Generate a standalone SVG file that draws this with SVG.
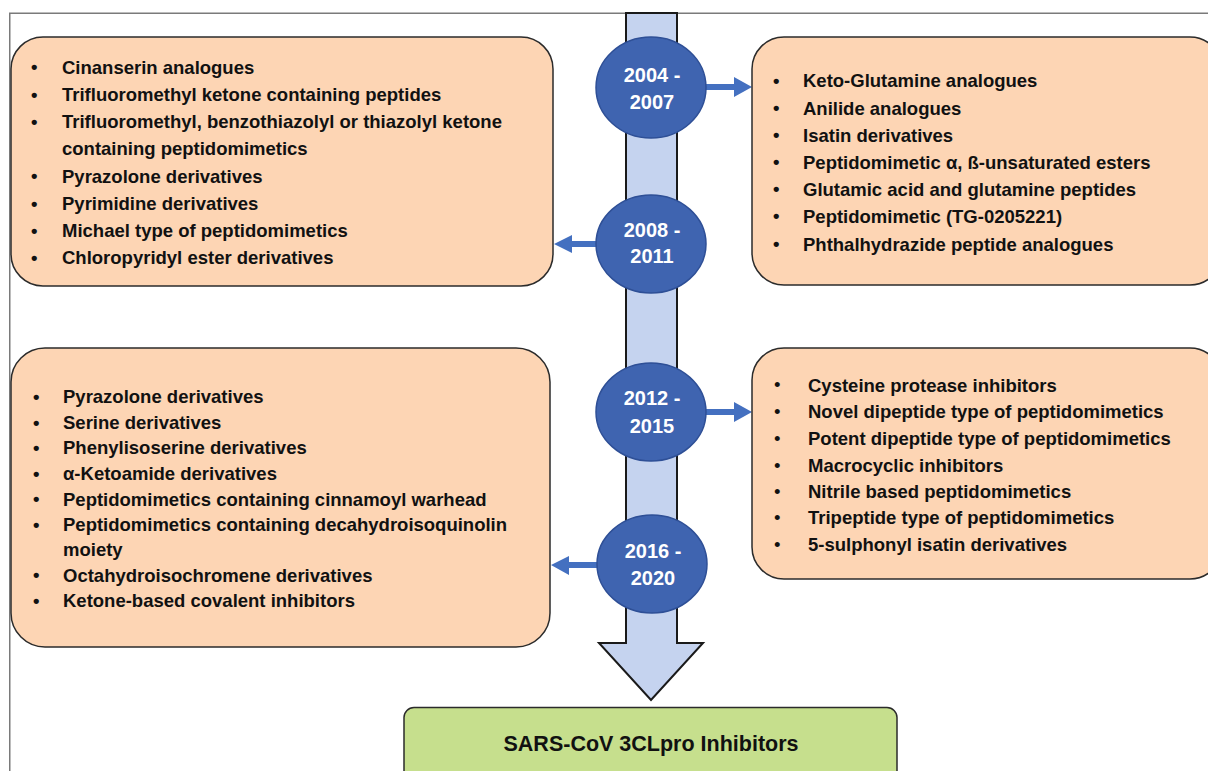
<svg xmlns="http://www.w3.org/2000/svg" width="1208" height="771" viewBox="0 0 1208 771">
<style>
.frame{fill:none;stroke:#7a7a7a;stroke-width:1.5}
.box{fill:#FDD5B4;stroke:#2b2b2b;stroke-width:1.5}
.item{font-family:"Liberation Sans",Arial,sans-serif;font-weight:bold;font-size:18.5px;fill:#111}
.yr{fill:#3F64B0;stroke:#2E4F96;stroke-width:1.5}
.yt{font-family:"Liberation Sans",Arial,sans-serif;font-weight:bold;font-size:20px;fill:#fff;text-anchor:middle}
.arr{fill:#4470C0}
.bar{fill:#C5D3EF;stroke:#1a1a1a;stroke-width:2}
.goal{fill:#C6DF8D;stroke:#2b2b2b;stroke-width:1.5}
.gt{font-family:"Liberation Sans",Arial,sans-serif;font-weight:bold;font-size:21.5px;fill:#111;text-anchor:middle}
</style>
<rect x="0" y="0" width="1208" height="771" fill="#fff"/>
<rect class="frame" x="9.75" y="13.25" width="1220" height="800"/>

<g id="timeline">
<polygon class="bar" points="626,13 677,13 677,643 703,643 651,700 599,643 626,643"/>
</g>

<g id="connectors">
<path class="arr" d="M704,84 L734,84 L734,77 L752,87 L734,97 L734,90 L704,90 Z"/>
<path class="arr" d="M598,241 L572,241 L572,235 L554,244 L572,253 L572,247 L598,247 Z"/>
<path class="arr" d="M704,409 L734,409 L734,402 L752,412 L734,422 L734,415 L704,415 Z"/>
<path class="arr" d="M599,562 L569,562 L569,556 L551,565 L569,575 L569,568 L599,568 Z"/>
</g>

<g id="year-2004-2007">
<ellipse class="yr" cx="651" cy="87.5" rx="55" ry="50.5"/>
<text class="yt" x="652" y="82">2004 -</text>
<text class="yt" x="652" y="109">2007</text>
</g>
<g id="year-2008-2011">
<ellipse class="yr" cx="651" cy="244" rx="55" ry="49"/>
<text class="yt" x="652" y="237">2008 -</text>
<text class="yt" x="652" y="263">2011</text>
</g>
<g id="year-2012-2015">
<ellipse class="yr" cx="651" cy="412" rx="55" ry="49"/>
<text class="yt" x="652" y="405">2012 -</text>
<text class="yt" x="652" y="433">2015</text>
</g>
<g id="year-2016-2020">
<ellipse class="yr" cx="652" cy="564" rx="55" ry="49"/>
<text class="yt" x="653" y="558">2016 -</text>
<text class="yt" x="653" y="585">2020</text>
</g>

<g id="box-2008-2011">
<rect class="box" x="11" y="37" width="542" height="249" rx="32"/>
<g class="item">
<text x="31" y="73">•</text><text x="62" y="73.5">Cinanserin analogues</text>
<text x="31" y="100.5">•</text><text x="62" y="100.7">Trifluoromethyl ketone containing peptides</text>
<text x="31" y="127.5">•</text><text x="62" y="128">Trifluoromethyl, benzothiazolyl or thiazolyl ketone</text>
<text x="62" y="155">containing peptidomimetics</text>
<text x="31" y="182">•</text><text x="62" y="182.5">Pyrazolone derivatives</text>
<text x="31" y="209.5">•</text><text x="62" y="210">Pyrimidine derivatives</text>
<text x="31" y="236.5">•</text><text x="62" y="237.3">Michael type of peptidomimetics</text>
<text x="31" y="263.5">•</text><text x="62" y="264.3">Chloropyridyl ester derivatives</text>
</g>
</g>

<g id="box-2004-2007">
<rect class="box" x="752" y="37" width="470" height="248" rx="32"/>
<g class="item">
<text x="773" y="87">•</text><text x="803" y="87.3">Keto-Glutamine analogues</text>
<text x="773" y="114">•</text><text x="803" y="115">Anilide analogues</text>
<text x="773" y="141">•</text><text x="803" y="141.7">Isatin derivatives</text>
<text x="773" y="168">•</text><text x="803" y="169">Peptidomimetic α, ß-unsaturated esters</text>
<text x="773" y="195">•</text><text x="803" y="196">Glutamic acid and glutamine peptides</text>
<text x="773" y="222">•</text><text x="803" y="223.3">Peptidomimetic (TG-0205221)</text>
<text x="773" y="250">•</text><text x="803" y="250.7">Phthalhydrazide peptide analogues</text>
</g>
</g>

<g id="box-2016-2020">
<rect class="box" x="11" y="348" width="539" height="299" rx="34"/>
<g class="item">
<text x="33" y="403">•</text><text x="63" y="403.3">Pyrazolone derivatives</text>
<text x="33" y="428.5">•</text><text x="63" y="429">Serine derivatives</text>
<text x="33" y="454">•</text><text x="63" y="454.3">Phenylisoserine derivatives</text>
<text x="33" y="479.5">•</text><text x="63" y="480">α-Ketoamide derivatives</text>
<text x="33" y="505">•</text><text x="63" y="505.7">Peptidomimetics containing cinnamoyl warhead</text>
<text x="33" y="530.5">•</text><text x="63" y="531">Peptidomimetics containing decahydroisoquinolin</text>
<text x="63" y="556">moiety</text>
<text x="33" y="581">•</text><text x="63" y="581.7">Octahydroisochromene derivatives</text>
<text x="33" y="606.5">•</text><text x="63" y="606.7">Ketone-based covalent inhibitors</text>
</g>
</g>

<g id="box-2012-2015">
<rect class="box" x="752" y="348" width="470" height="231" rx="32"/>
<g class="item">
<text x="774" y="391" font-weight="normal">•</text><text x="808" y="391.7">Cysteine protease inhibitors</text>
<text x="774" y="418" font-weight="normal">•</text><text x="808" y="418">Novel dipeptide type of peptidomimetics</text>
<text x="774" y="445" font-weight="normal">•</text><text x="808" y="445">Potent dipeptide type of peptidomimetics</text>
<text x="774" y="471.5" font-weight="normal">•</text><text x="808" y="471.7">Macrocyclic inhibitors</text>
<text x="774" y="497.5" font-weight="normal">•</text><text x="808" y="497.7">Nitrile based peptidomimetics</text>
<text x="774" y="524" font-weight="normal">•</text><text x="808" y="524.3">Tripeptide type of peptidomimetics</text>
<text x="774" y="551" font-weight="normal">•</text><text x="808" y="551">5-sulphonyl isatin derivatives</text>
</g>
</g>

<g id="target">
<rect class="goal" x="404" y="707.5" width="493" height="80" rx="10"/>
<text class="gt" x="651" y="751">SARS-CoV 3CLpro Inhibitors</text>
</g>
</svg>
